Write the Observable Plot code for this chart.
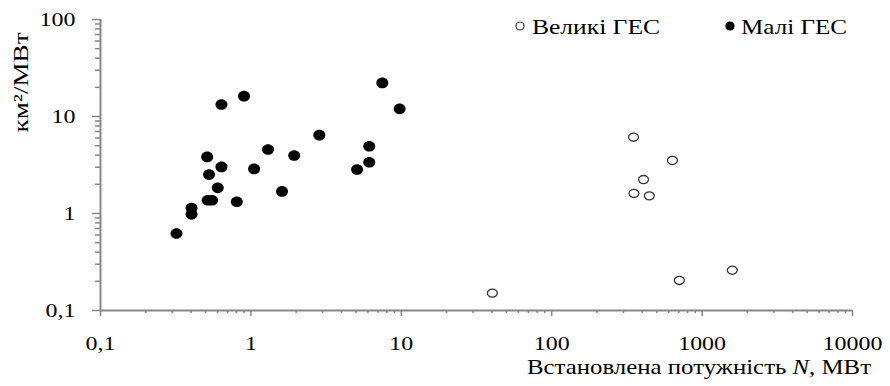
<!DOCTYPE html>
<html><head><meta charset="utf-8">
<script src="https://cdn.jsdelivr.net/npm/d3@7"></script>
<script src="https://cdn.jsdelivr.net/npm/@observablehq/plot@0.6"></script>
<style>
body{margin:0;background:#fff;}
#chart svg{display:block;}
</style></head><body><div id="chart"></div>
<script>
// Малі ГЕС (filled)
const smallPower = [0.637,0.90,7.48,9.75,2.85,6.12,1.30,1.94,0.512,0.637,1.05,6.12,5.08,0.527,0.602,1.61,0.516,0.552,0.806,0.403,0.403,0.32];
const smallArea  = [13.3,16.2,22.2,12.0,6.42,4.94,4.57,3.96,3.83,3.02,2.88,3.38,2.84,2.52,1.84,1.69,1.37,1.37,1.32,1.14,0.98,0.622];
// Великі ГЕС (open)
const largePower = [350,635,408,352,446,706,1587,40.3];
const largeArea  = [6.12,3.52,2.24,1.61,1.52,0.204,0.26,0.151];
const seriesNames = ["Великі ГЕС","Малі ГЕС"];
const xTicks = [0.1,1,10,100,1000,10000];
const xTickLabels = ["0,1","1","10","100","1000","10000"];
const yTicks = [0.1,1,10,100];
const yTickLabels = ["0,1","1","10","100"];
const xTitle = ["Встановлена потужність ","N",", МВт"];
const yTitle = "км²/МВт";

const minor = majors => majors.slice(0,-1).flatMap(m => [2,3,4,5,6,7,8,9].map(k => m*k));
const xMinor = minor(xTicks), yMinor = minor(yTicks);

function ellipse(fx, fy){
  return {draw(ctx, size){
    const r = Math.sqrt(size/Math.PI), rx = r*fx, ry = r*fy, k = 0.5523;
    ctx.moveTo(rx,0);
    ctx.bezierCurveTo(rx, ry*k, rx*k, ry, 0, ry);
    ctx.bezierCurveTo(-rx*k, ry, -rx, ry*k, -rx, 0);
    ctx.bezierCurveTo(-rx, -ry*k, -rx*k, -ry, 0, -ry);
    ctx.bezierCurveTo(rx*k, -ry, rx, -ry*k, rx, 0);
    ctx.closePath();
  }};
}

const small = smallPower.map((p,i)=>({p, a: smallArea[i]}));
const large = largePower.map((p,i)=>({p, a: largeArea[i]}));
const gray = "#868686";
const font = "Liberation Serif, Times New Roman, DejaVu Serif, serif";

const plot = Plot.plot({
  width: 890, height: 386,
  marginLeft: 100, marginRight: 38, marginTop: 19, marginBottom: 76,
  style: {fontFamily: font, fontSize: "19px", color: "black", background: "white"},
  x: {type: "log", domain: [0.1, 10000]},
  y: {type: "log", domain: [0.1, 100]},
  marks: [
    Plot.axisX(xMinor, {tickSize: 3, tickFormat: () => "", stroke: gray, strokeWidth: 1.5, label: null}),
    Plot.axisX(xTicks, {tickSize: 6, tickPadding: 20, tickFormat: d => xTickLabels[xTicks.indexOf(d)], stroke: gray, strokeWidth: 1.5, fill: "black", label: null}),
    Plot.axisY(yMinor, {tickSize: 5, tickFormat: () => "", stroke: gray, strokeWidth: 1.5, label: null}),
    Plot.axisY(yTicks, {tickSize: 8, tickPadding: 17, tickFormat: d => yTickLabels[yTicks.indexOf(d)], stroke: gray, strokeWidth: 1.5, fill: "black", label: null}),
    Plot.ruleX([0.1], {stroke: gray, strokeWidth: 2}),
    Plot.ruleY([0.1], {stroke: gray, strokeWidth: 2}),
    Plot.dot(large, {x: "p", y: "a", r: 4.5, symbol: ellipse(1.1, 0.9), fill: "none", stroke: "#333", strokeWidth: 1.3}),
    Plot.dot(small, {x: "p", y: "a", r: 5.6, symbol: ellipse(1.07, 0.95), fill: "black", stroke: "none"})
  ]
});
plot.setAttribute("font-family", font);
plot.style.fontFamily = font;
document.getElementById("chart").append(plot);

const svg = d3.select(plot);
svg.selectAll("text").style("font-family", font);
// stretch tick labels horizontally like the reference
svg.selectAll("g[aria-label$='tick label'] text").each(function(){
  const len = this.getComputedTextLength();
  if (len > 0) { this.setAttribute("textLength", len*1.26); this.setAttribute("lengthAdjust", "spacingAndGlyphs"); }
});

function fit(sel, w){ sel.attr("textLength", w).attr("lengthAdjust", "spacingAndGlyphs"); return sel; }

// y title
fit(svg.append("text").attr("transform", "translate(28,82.5) rotate(-90)")
  .attr("text-anchor", "middle").style("font-family", font).attr("font-size", 22).attr("fill", "black")
  .text(yTitle), 100);
// x title
const xt = svg.append("text").attr("x", 527).attr("y", 374).attr("text-anchor", "start")
  .style("font-family", font).attr("font-size", 21).attr("fill", "black");
xt.append("tspan").text(xTitle[0]);
xt.append("tspan").attr("font-style", "italic").text(xTitle[1]);
xt.append("tspan").text(xTitle[2]);
fit(xt, 344);

// legend
const lg = svg.append("g").style("font-family", font).attr("font-size", 22).attr("fill", "black").attr("text-anchor", "start");
lg.append("circle").attr("cx", 520).attr("cy", 26).attr("r", 4).attr("fill", "none").attr("stroke", "#333").attr("stroke-width", 1.2);
fit(lg.append("text").attr("x", 532).attr("y", 33.5).text(seriesNames[0]), 128);
lg.append("circle").attr("cx", 730).attr("cy", 26).attr("r", 4.6).attr("fill", "black");
fit(lg.append("text").attr("x", 741).attr("y", 33.5).text(seriesNames[1]), 106);
</script></body></html>
